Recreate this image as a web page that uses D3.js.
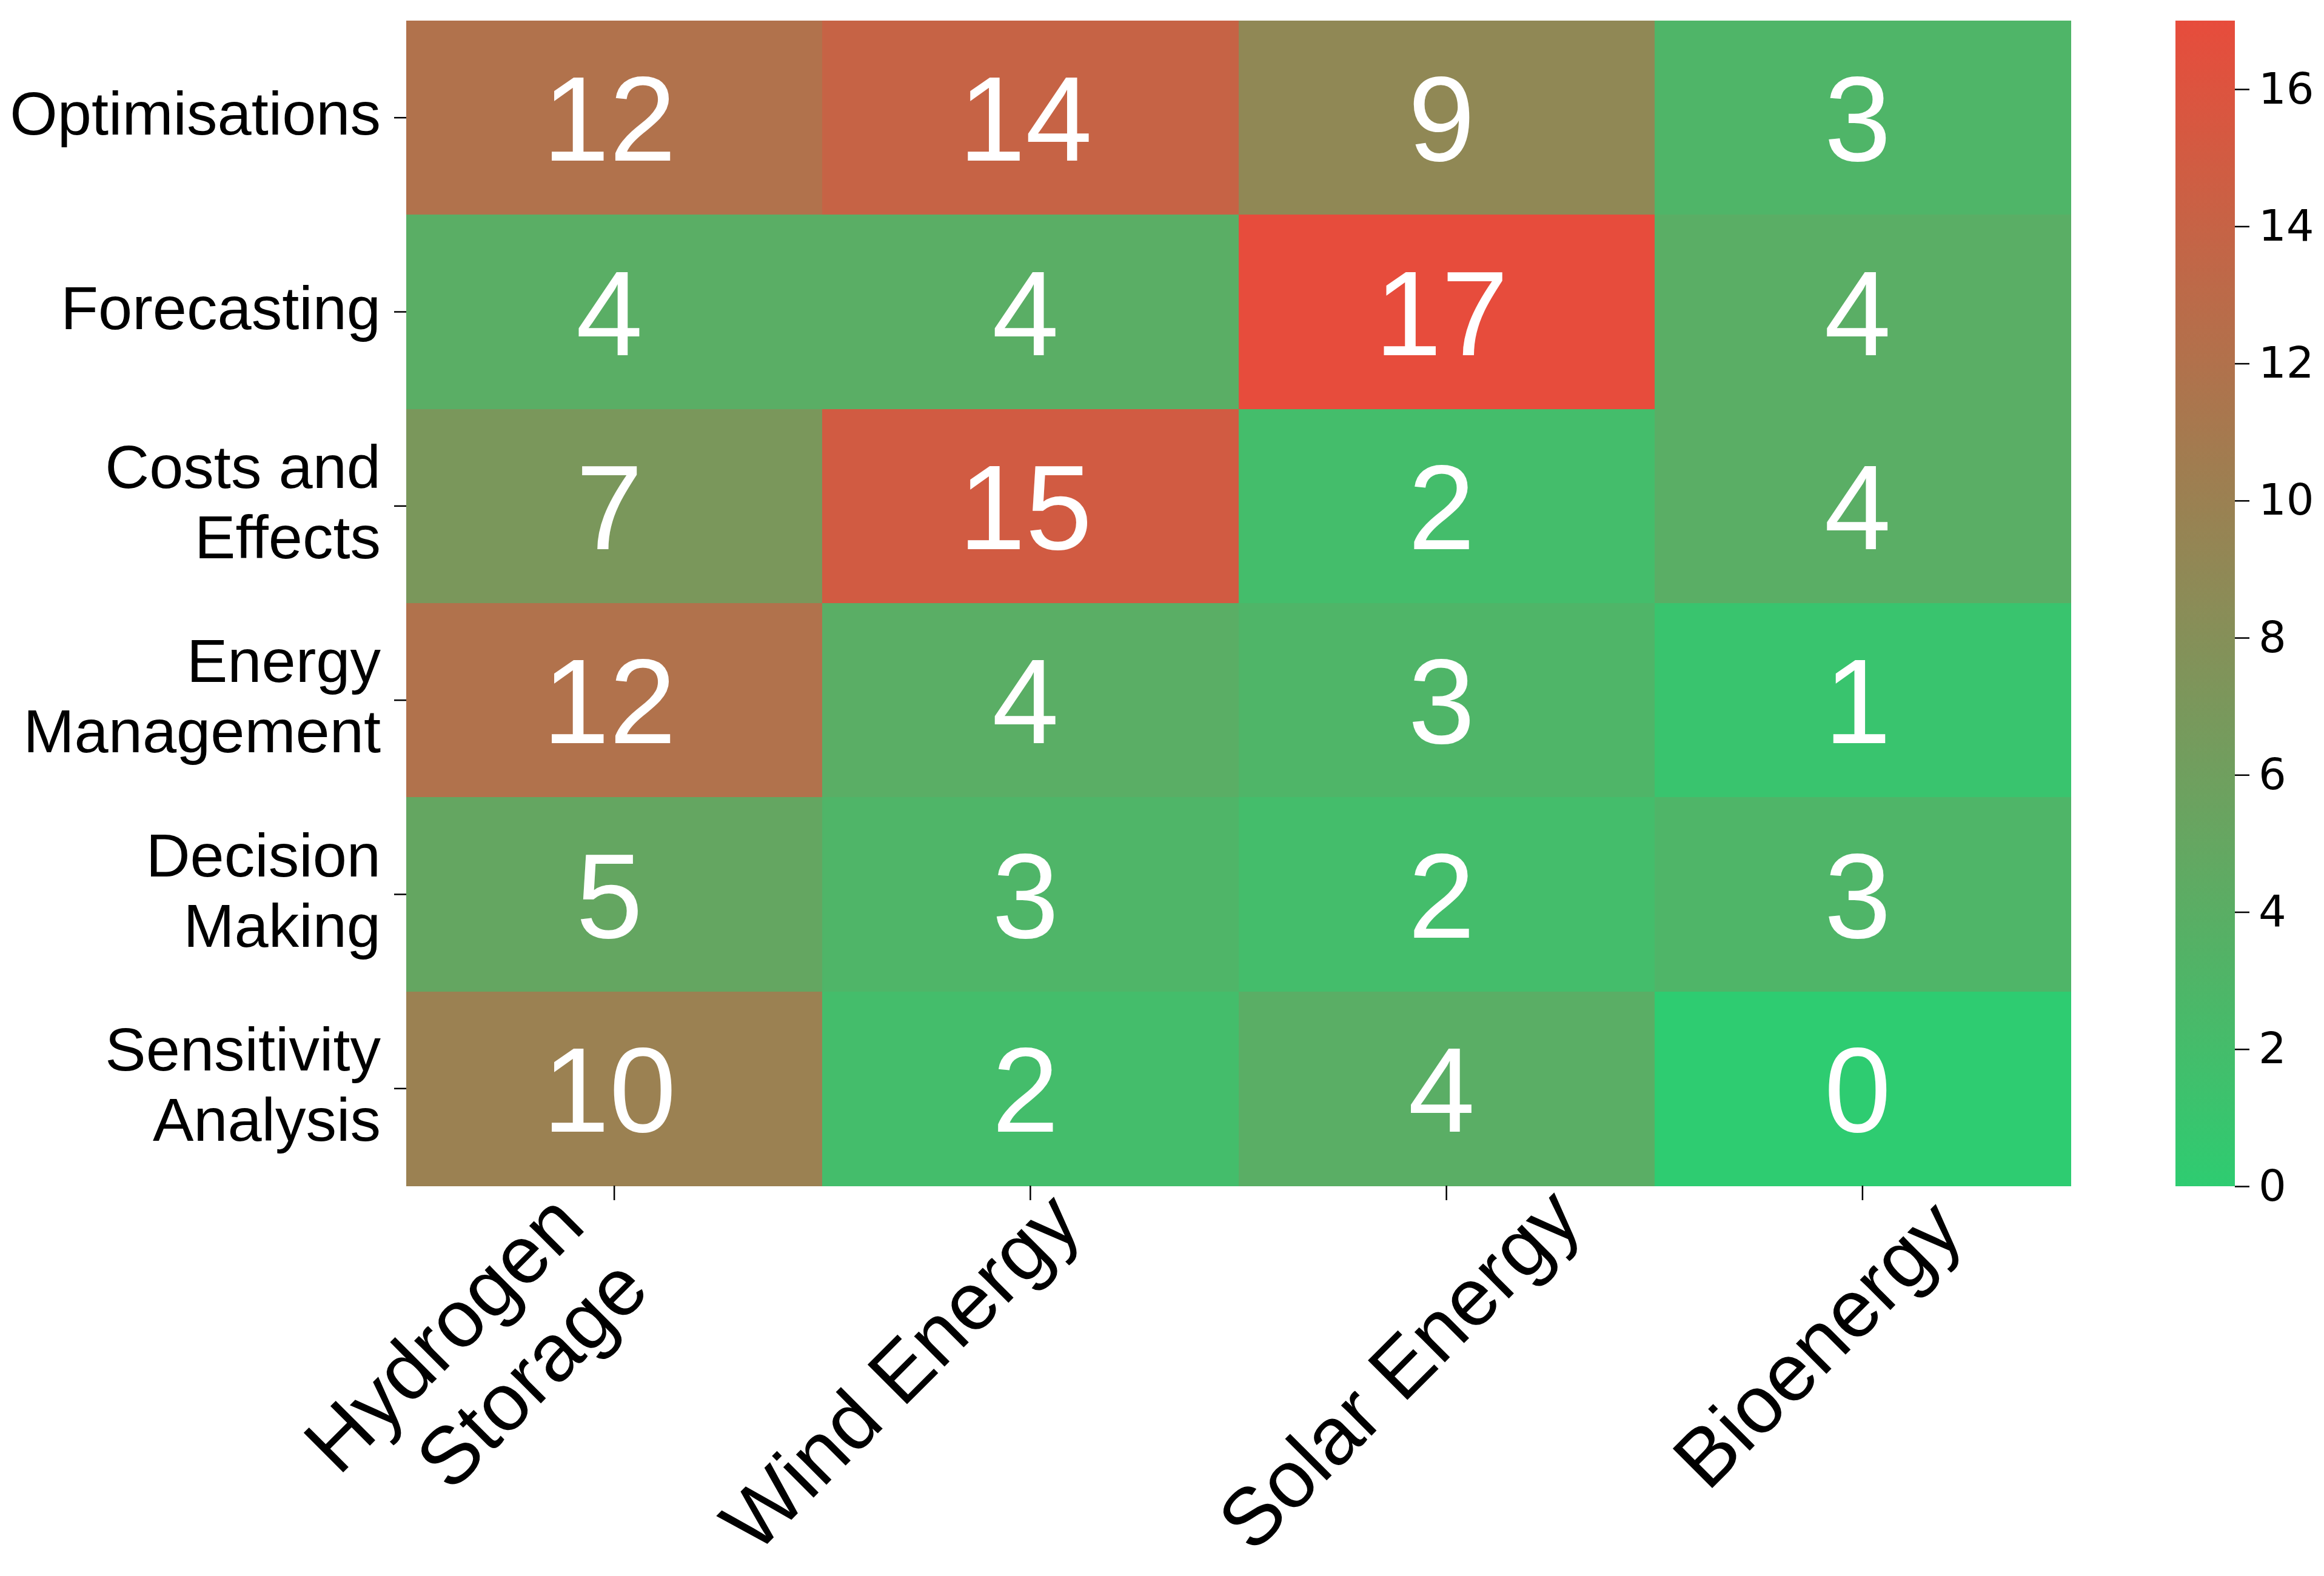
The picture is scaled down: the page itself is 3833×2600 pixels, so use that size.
<!DOCTYPE html>
<html>
<head>
<meta charset="utf-8">
<script src="https://cdn.jsdelivr.net/npm/d3@7"></script>
<style>
  html, body { margin: 0; padding: 0; background: #ffffff; }
  svg { display: block; }
</style>
</head>
<body>
<svg id="chart" width="3833" height="2600"></svg>
<script>
// ---- data ----
const rowLabels = ["Optimisations", "Forecasting", "Costs and\nEffects", "Energy\nManagement", "Decision\nMaking", "Sensitivity\nAnalysis"];
const colLabels = ["Hydrogen\nStorage", "Wind Energy", "Solar Energy", "Bioenergy"];
const values = [
  [12, 14, 9, 3],
  [4, 4, 17, 4],
  [7, 15, 2, 4],
  [12, 4, 3, 1],
  [5, 3, 2, 3],
  [10, 2, 4, 0]
];
const colorDomain = [0, 17];
const colorbarTicks = [0, 2, 4, 6, 8, 10, 12, 14, 16];

// ---- layout (not data) ----
const W = 3833, H = 2600;
const plot = { left: 670, right: 3415, top: 34, bottom: 1956 };
const cbar = { left: 3588, right: 3686 };
const xLabelShift = [-44, 89, 228, 171];   // baseline-end nudges of rotated labels
const xLabelDrop = [70, 68, 61, 80];
const fontSans = "'Liberation Sans', Arial, Helvetica, sans-serif";

const svg = d3.select("#chart");
svg.append("rect").attr("width", W).attr("height", H).attr("fill", "#ffffff");

const x = d3.scaleBand().domain(d3.range(colLabels.length)).range([plot.left, plot.right]).padding(0);
const y = d3.scaleBand().domain(d3.range(rowLabels.length)).range([plot.top, plot.bottom]).padding(0);
const color = d3.scaleLinear().domain(colorDomain).range(["#2ecc71", "#e74c3c"]).interpolate(d3.interpolateRgb);

// cells
const cells = [];
values.forEach((row, r) => row.forEach((v, c) => cells.push({ r, c, v })));

svg.append("g").selectAll("rect").data(cells).join("rect")
  .attr("x", d => x(d.c))
  .attr("y", d => y(d.r))
  .attr("width", x.bandwidth() + 0.5)
  .attr("height", y.bandwidth() + 0.5)
  .attr("fill", d => color(d.v))
  .attr("shape-rendering", "crispEdges");

// annotations
const annotSize = 198;
svg.append("g").selectAll("text").data(cells).join("text")
  .attr("x", d => x(d.c) + x.bandwidth() / 2 - 8)
  .attr("y", d => y(d.r) + y.bandwidth() / 2 + annotSize * 0.36)
  .attr("text-anchor", "middle")
  .attr("font-family", fontSans)
  .attr("font-size", annotSize)
  .attr("fill", "#ffffff")
  .text(d => d.v);

// y axis ticks
const yAxis = d3.axisLeft(y).tickSize(20).tickFormat("");
const gy = svg.append("g").attr("transform", `translate(${plot.left},0)`).call(yAxis);
gy.select(".domain").remove();
gy.selectAll(".tick line").attr("stroke", "#000").attr("stroke-width", 2.5);

// y labels
const ySize = 101, yLine = 116;
rowLabels.forEach((lab, i) => {
  const lines = lab.split("\n");
  const cy = y(i) + y.bandwidth() / 2;
  const t = svg.append("text")
    .attr("text-anchor", "end")
    .attr("font-family", fontSans)
    .attr("font-size", ySize)
    .attr("fill", "#000");
  lines.forEach((ln, k) => {
    t.append("tspan")
      .attr("x", 628)
      .attr("y", cy + 28 + (k - (lines.length - 1) / 2) * yLine)
      .text(ln);
  });
});

// x axis ticks
const xAxis = d3.axisBottom(x).tickSize(24).tickFormat("");
const gx = svg.append("g").attr("transform", `translate(0,${plot.bottom})`).call(xAxis);
gx.select(".domain").remove();
gx.selectAll(".tick line").attr("stroke", "#000").attr("stroke-width", 2.5);

// x labels (rotated 45°, right aligned)
const xSize = 134, xLine = 150;
colLabels.forEach((lab, i) => {
  const lines = lab.split("\n");
  const ax = x(i) + x.bandwidth() / 2 + xLabelShift[i];
  const ay = plot.bottom + xLabelDrop[i];
  const t = svg.append("text")
    .attr("transform", `translate(${ax},${ay}) rotate(-45)`)
    .attr("text-anchor", "end")
    .attr("font-family", fontSans)
    .attr("font-size", xSize)
    .attr("fill", "#000");
  lines.forEach((ln, k) => {
    t.append("tspan").attr("x", 0).attr("y", k * xLine).text(ln);
  });
});

// colorbar
const cy = d3.scaleLinear().domain(colorDomain).range([plot.bottom + 1, plot.top]);
const defs = svg.append("defs");
const grad = defs.append("linearGradient").attr("id", "cbgrad")
  .attr("x1", 0).attr("y1", 1).attr("x2", 0).attr("y2", 0);
d3.range(0, 1.0001, 0.1).forEach(f => {
  const v = colorDomain[0] + f * (colorDomain[1] - colorDomain[0]);
  grad.append("stop").attr("offset", f).attr("stop-color", color(v));
});
svg.append("rect")
  .attr("x", cbar.left)
  .attr("y", cy(colorDomain[1]))
  .attr("width", cbar.right - cbar.left)
  .attr("height", cy(colorDomain[0]) - cy(colorDomain[1]))
  .attr("fill", "url(#cbgrad)");

const cAxis = d3.axisRight(cy).tickValues(colorbarTicks).tickSize(24).tickPadding(15).tickFormat(d3.format("d"));
const gc = svg.append("g").attr("transform", `translate(${cbar.right},0)`).call(cAxis);
gc.select(".domain").remove();
gc.selectAll(".tick line").attr("stroke", "#000").attr("stroke-width", 2.5);
gc.selectAll(".tick text")
  .attr("font-family", "'DejaVu Sans', sans-serif")
  .attr("font-size", 72)
  .attr("fill", "#000");
</script>
</body>
</html>
